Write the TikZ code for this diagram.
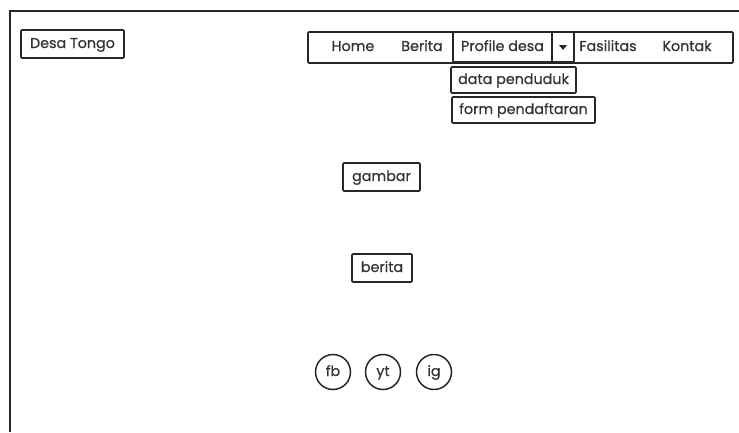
\documentclass[tikz,border=0pt]{standalone}
\usepackage{fontspec}
\setmainfont{Poppins}[FakeBold=0.6]
\begin{document}
\begin{tikzpicture}[x=1pt,y=-1pt,
  txt/.style={font=\fontsize{14.3}{16}\selectfont,text=black!80,text height=9pt,text depth=1pt},
  box/.style={txt,draw=black!85,line width=1.6pt,rounded corners=1pt,inner sep=0pt},
  lbl/.style={txt,inner sep=0pt},
  soc/.style={txt,draw=black!85,line width=1.5pt,circle,minimum size=35pt,inner sep=0pt}]
\useasboundingbox (0,0) rectangle (739,432);
\coordinate (ftr) at (739,11);
\coordinate (ftl) at (10,11);
\coordinate (fbl) at (10,432);
\draw[line width=2.4pt,black!85] (ftr) -- (ftl) -- (fbl);
\node[box,minimum width=103pt,minimum height=28pt] (desa) at (72.5,44) {Desa Tongo};
\node[box,minimum width=425pt,minimum height=31pt] (nav) at (520.5,47.5) {};
\node[lbl] (home) at (353,47) {Home};
\node[lbl] (berita) at (422,47) {Berita};
\node[box,minimum width=99pt,minimum height=30pt] (prof) at (502.5,47) {Profile desa};
\node[box,minimum width=22pt,minimum height=30pt] (dd) at (563,47) {};
\fill[black!85] (559,45) -- (567,45) -- (563,50) -- cycle;
\node[lbl] (fas) at (608,47) {Fasilitas};
\node[lbl] (kon) at (687,47) {Kontak};
\node[box,minimum width=125pt,minimum height=26pt] (data) at (513.5,80) {data penduduk};
\node[box,minimum width=143pt,minimum height=26pt] (form) at (523.5,110) {form pendaftaran};
\node[box,minimum width=77pt,minimum height=28pt] (gambar) at (381.5,177) {gambar};
\node[box,minimum width=60pt,minimum height=28pt] (beritab) at (382,268) {berita};
\node[soc] (fb) at (333,372) {fb};
\node[soc] (yt) at (383,372) {yt};
\node[soc] (ig) at (434,372) {ig};
\end{tikzpicture}
\end{document}
